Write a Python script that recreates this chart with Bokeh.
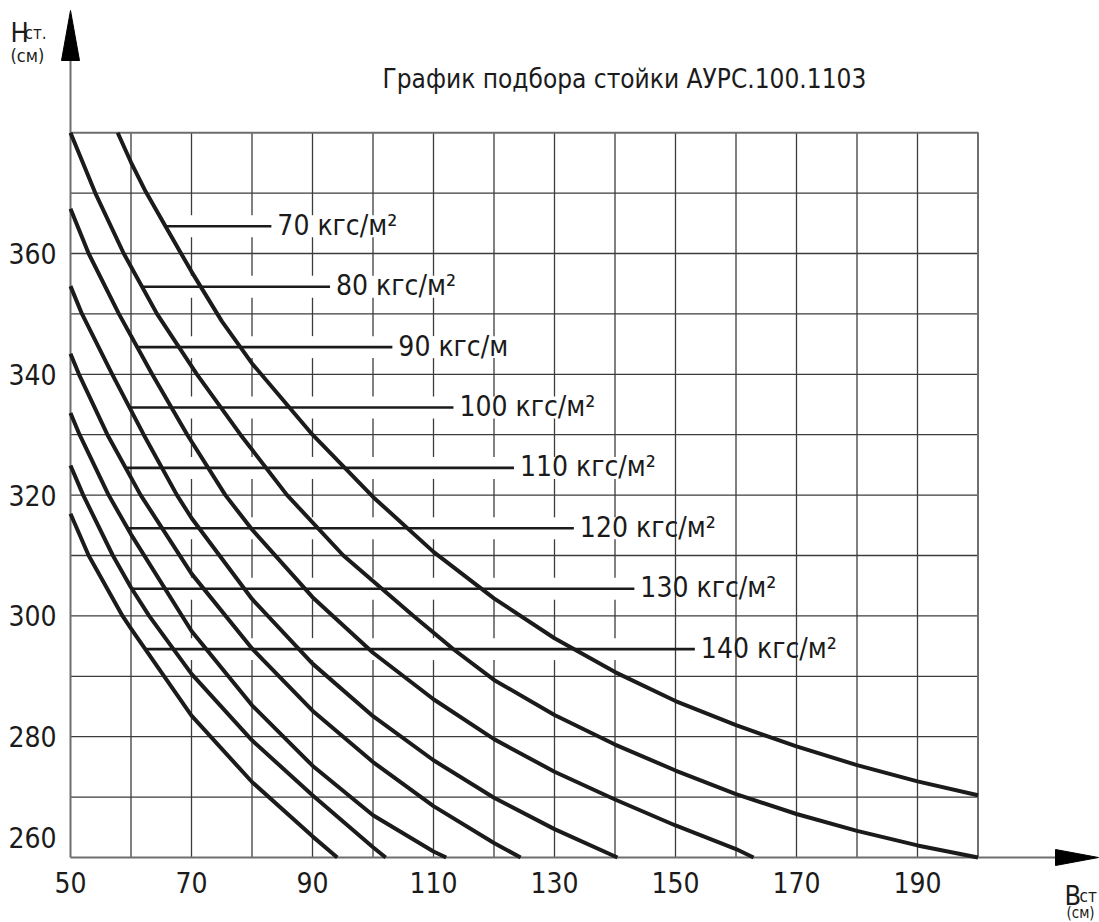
import numpy as np
from bokeh.plotting import figure
from bokeh.models import Range1d
from bokeh.core.properties import value
from bokeh.embed import file_html
from bokeh.resources import INLINE

# ---------------- data ----------------
title_text = "График подбора стойки АУРС.100.1103"
x_tick_values = [50, 70, 90, 110, 130, 150, 170, 190]
y_tick_values = [260, 280, 300, 320, 340, 360]
x_grid_values = [60, 70, 80, 90, 100, 110, 120, 130, 140, 150, 160, 170, 180, 190]
y_grid_values = [270, 280, 290, 300, 310, 320, 330, 340, 350, 360, 370]

loads = [70, 80, 90, 100, 110, 120, 130, 140]
label_texts = ["70 кгс/м²", "80 кгс/м²", "90 кгс/м", "100 кгс/м²",
               "110 кгс/м²", "120 кгс/м²", "130 кгс/м²", "140 кгс/м²"]
leader_h = [364.5, 354.5, 344.5, 334.5, 324.5, 314.5, 304.5, 294.5]
leader_end_b = [83.2, 92.9, 103.2, 113.3, 123.3, 133.2, 143.2, 153.2]

b70 = [57.8, 60, 62.4, 65.7, 70, 75, 80, 90, 100, 110, 120, 130, 140, 150, 160, 170, 180, 190, 200]
h70 = [380, 375.1, 370.3, 364.5, 357.0, 348.8, 341.8, 330.0, 319.7, 310.6, 302.9, 296.3, 290.7, 285.9, 281.9, 278.4, 275.3, 272.6, 270.3]
b80 = [50, 54.1, 58.8, 64.3, 70.9, 78.1, 85.8, 95.1, 106.7, 113.4, 120, 130, 140, 150, 160, 170, 180, 190, 200]
h80 = [380, 370, 360, 350, 340, 330, 320, 310, 300, 294.4, 289.4, 283.6, 278.7, 274.4, 270.5, 267.2, 264.4, 262.0, 260]
b90 = [50, 53.0, 58.0, 63.5, 69.3, 75.6, 80, 90, 100, 110, 120, 130, 140, 150, 160, 162.9]
h90 = [367.4, 360, 350, 340, 330, 320, 314.3, 303.1, 293.9, 286.2, 279.6, 274.2, 269.6, 265.3, 261.4, 260]
b100 = [50, 51.9, 56.9, 62.1, 67.6, 70, 80, 90, 100, 110, 120, 130, 140.4]
h100 = [354.6, 350, 340, 330, 320, 316.2, 302.8, 292.1, 283.4, 276.1, 269.9, 264.7, 260]
b110 = [50, 51.4, 56.1, 61.6, 70, 80, 90, 100, 110, 120, 124.4]
h110 = [343.4, 340, 330, 320, 307.0, 294.6, 284.3, 275.8, 268.5, 262.4, 260]
b120 = [50, 51.5, 56.3, 60, 70, 80, 90, 100, 110, 112.1]
h120 = [333.6, 330, 320, 313.5, 297.5, 285.2, 275.2, 267.0, 261.0, 260]
b130 = [50, 52.1, 57.0, 60, 63.0, 70, 80, 90, 100, 102.1]
h130 = [324.9, 320, 310, 304.7, 300, 290.4, 279.4, 270.3, 261.7, 260]
b140 = [50, 53.0, 58.6, 60, 70, 80, 90, 94.1]
h140 = [316.9, 310, 300, 297.9, 283.5, 272.5, 263.5, 260]

curves_b = [b70, b80, b90, b100, b110, b120, b130, b140]
curves_h = [h70, h80, h90, h100, h110, h120, h130, h140]

# ---------------- layout ----------------
W, H = 1099, 922
SX, SY = 6.05, 6.04            # pixels per data unit
X_LEFT = 50 - 70 / SX          # data x at canvas left edge
Y_TOP = 260 + 857 / SY         # data y at canvas top edge
Y_BOTTOM = Y_TOP - H / SY
X_RIGHT = X_LEFT + W / SX


def dx(px):
    return X_LEFT + px / SX


def dy(py):
    return Y_TOP - py / SY


FONT = value("'DejaVu Sans Condensed', 'Liberation Sans Narrow', 'Roboto Condensed', Roboto, sans-serif")
INK = "#1b1b1b"
GRID = "#3c3c3c"
FRAME = "#6e6e6e"

p = figure(width=W, height=H, output_backend="svg", toolbar_location=None,
           x_axis_type=None, y_axis_type=None,
           x_range=Range1d(X_LEFT, X_RIGHT), y_range=Range1d(Y_BOTTOM, Y_TOP))
p.min_border = 0
p.outline_line_color = None
p.background_fill_color = "white"
p.border_fill_color = "white"

X_MIN, X_MAX = 50, 200
Y_MIN, Y_MAX = 260, 380

# label spans (for gaps in the vertical grid lines between B=70 and B=140)
text_units = [17.5 if "²" not in t else 20.5 for t in label_texts]
leader_start_b = [float(np.interp(lv, hh[::-1], bb[::-1]))
                  for lv, hh, bb in zip(leader_h, curves_h, curves_b)]
GAP = 1.82

vx, vy = [], []
for gx in x_grid_values:
    gaps = []
    for lv, s, e, tu in zip(leader_h, leader_start_b, leader_end_b, text_units):
        if s + 0.5 < gx < e + tu and 60 < gx <= 140:
            gaps.append((lv - GAP, lv + GAP))
    gaps.sort()
    cur = Y_MIN
    for g0, g1 in gaps:
        vx.append([gx, gx]); vy.append([cur, g0])
        cur = g1
    vx.append([gx, gx]); vy.append([cur, Y_MAX])
p.multi_line(vx, vy, line_color=GRID, line_width=1.3)

hx = [[X_MIN, X_MAX] for _ in y_grid_values]
hy = [[g, g] for g in y_grid_values]
p.multi_line(hx, hy, line_color=GRID, line_width=1.3)

# outer frame lines (top and right) and the axes
p.line([X_MIN, X_MAX, X_MAX], [Y_MAX, Y_MAX, Y_MIN], line_color=FRAME, line_width=2)
p.line([X_MIN, X_MIN], [Y_MIN, dy(58)], line_color=FRAME, line_width=2)
p.line([X_MIN, dx(1056)], [Y_MIN, Y_MIN], line_color=FRAME, line_width=2)

# arrow heads
p.patch([X_MIN - 9 / SX, X_MIN, X_MIN + 9 / SX], [dy(60), dy(10), dy(60)],
        fill_color="black", line_color="black")
p.patch([dx(1055), dx(1098), dx(1055)], [Y_MIN + 8 / SY, Y_MIN, Y_MIN - 8 / SY],
        fill_color="black", line_color="black")

# curves
for bb, hh in zip(curves_b, curves_h):
    p.line(bb, hh, line_color=INK, line_width=4, line_join="round", line_cap="butt")

# leaders
p.segment(x0=leader_start_b, y0=leader_h, x1=leader_end_b, y1=leader_h,
          line_color=INK, line_width=2.6)
p.text(x=leader_end_b, y=leader_h, text=label_texts, x_offset=6, y_offset=-1,
       text_baseline="middle", text_align="left", text_font=FONT,
       text_font_size="28px", text_color=INK)

# tick labels
p.text(x=x_tick_values, y=[Y_MIN] * len(x_tick_values), text=[str(v) for v in x_tick_values],
       y_offset=25, text_align="center", text_baseline="middle", text_font=FONT,
       text_font_size="28px", text_color=INK)
y_lab_y = [v + (3.3 if v == 260 else 0) for v in y_tick_values]
p.text(x=[X_MIN] * len(y_tick_values), y=y_lab_y, text=[str(v) for v in y_tick_values],
       x_offset=-14, text_align="right", text_baseline="middle", text_font=FONT,
       text_font_size="28px", text_color=INK)

# title
p.text(x=[dx(382)], y=[dy(78)], text=[title_text], text_align="left",
       text_baseline="alphabetic", text_font=FONT, text_font_size="26px", text_color=INK)

# axis names
p.text(x=[dx(10)], y=[dy(32)], text=["Н"], text_baseline="alphabetic",
       text_font=FONT, text_font_size="27px", text_color=INK)
p.text(x=[dx(24)], y=[dy(32)], text=["ст."], text_baseline="alphabetic",
       text_font=FONT, text_font_size="17px", text_color=INK)
p.text(x=[dx(10)], y=[dy(55)], text=["(см)"], text_baseline="alphabetic",
       text_font=FONT, text_font_size="18px", text_color=INK)
p.text(x=[dx(1064)], y=[dy(895)], text=["В"], text_baseline="alphabetic",
       text_font=FONT, text_font_size="27px", text_color=INK)
p.text(x=[dx(1079)], y=[dy(895)], text=["ст"], text_baseline="alphabetic",
       text_font=FONT, text_font_size="17px", text_color=INK)
p.text(x=[dx(1066)], y=[dy(912)], text=["(см)"], text_baseline="alphabetic",
       text_font=FONT, text_font_size="15px", text_color=INK)

open("out.html", "w").write(file_html(p, INLINE))
